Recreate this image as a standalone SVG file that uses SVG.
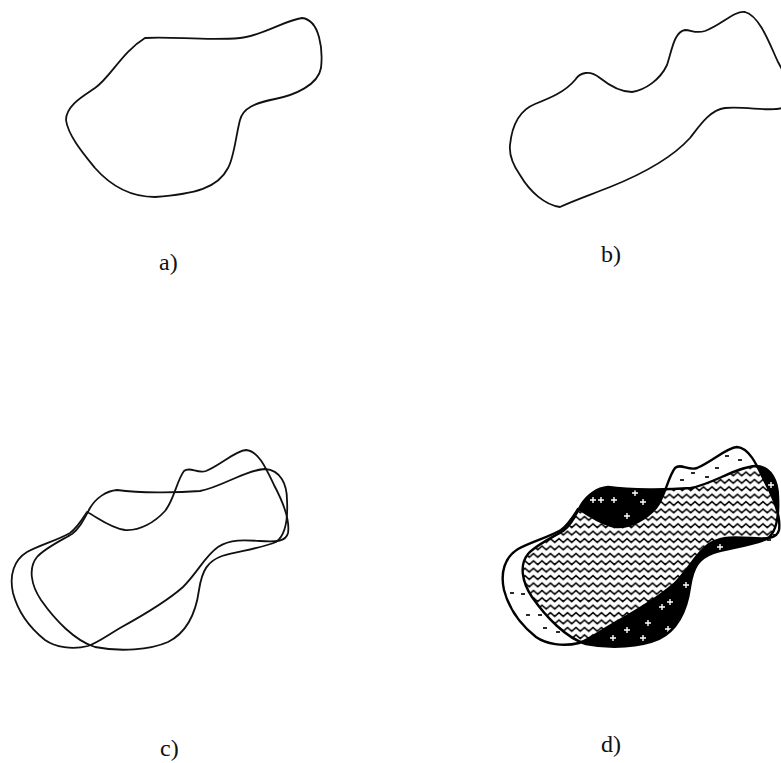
<svg xmlns="http://www.w3.org/2000/svg" xmlns:xlink="http://www.w3.org/1999/xlink" width="781" height="763" viewBox="0 0 781 763">
<style>
.outline{fill:none;stroke:#111;stroke-width:1.8;stroke-linejoin:round}
.outline-d{fill:none;stroke:#000;stroke-width:2.4;stroke-linejoin:round}
.label{font-family:"Liberation Serif","Times New Roman",serif;font-size:24px;fill:#111}
.plus{stroke:#fff;stroke-width:1.4;fill:none}
.dash{stroke:#111;stroke-width:1.8;fill:none}
</style>
<defs>
<path id="shA" d="M117,490 C140,493 175,493 200,491 C222,487 245,470 265,469 C281,470 287,485 287,500 C288,518 286,535 276,542 C262,548 240,551 222,556 C208,561 202,570 199,590 C196,612 188,632 168,642 C150,650 120,652 95,647 C75,641 55,620 41,600 C31,585 28,568 37,557 C45,548 62,540 72,534 C80,528 84,519 90,508 C96,498 106,491 117,490 Z"/>
<path id="shB" d="M87,512 C97,517 110,528 125,530 C140,531 155,522 165,511 C174,500 177,480 184,471 C190,466 197,474 206,471 C222,464 235,451 246,450 C258,451 265,466 274,485 C282,500 290,520 288,533 C286,542 275,542 260,541 C245,540 230,539 218,547 C205,556 198,572 183,587 C165,603 140,617 120,628 C105,637 97,643 88,646 C72,650 55,647 45,640 C30,628 18,612 13,593 C9,575 14,560 27,552 C40,545 58,540 70,533 C78,527 83,518 87,512 Z"/>
<clipPath id="clipA"><use xlink:href="#shA"/></clipPath>
<pattern id="zz" patternUnits="userSpaceOnUse" width="8.5" height="7.4">
<rect width="8.5" height="7.4" fill="#fff"/>
<path d="M-1,2.2 L0,1.4 L4.25,5.2 L8.5,1.4 L9.5,2.2" fill="none" stroke="#000" stroke-width="1.6"/>
</pattern>
<path id="plus" class="plus" d="M-3,0 H3 M0,-3 V3"/>
<path id="dash" class="dash" d="M-2,0 H2"/>
</defs>

<g id="panel-a">
<path class="outline" d="M145,38 C170,36 205,41 240,38 C262,36 285,20 302,18 C320,20 323,50 321,68 C318,85 295,95 275,99 C255,103 243,108 240,120 C236,135 234,158 228,168 C218,188 195,194 155,197 C130,197 110,185 95,168 C82,152 68,135 66,120 C66,105 85,95 95,88 C110,78 122,52 145,38 Z"/>
<text class="label" x="159" y="270">a)</text>
</g>

<g id="panel-b">
<path class="outline" d="M510,145 C512,125 520,110 535,104 C550,98 565,92 575,80 C580,72 590,70 600,78 C610,86 620,92 632,92 C645,90 660,80 667,65 C672,50 674,32 685,30 C692,30 695,34 705,31 C720,26 735,10 745,12 C760,16 770,45 778,62 C788,80 800,105 782,108 C770,112 745,106 725,108 C710,110 700,125 690,138 C670,160 640,175 610,187 C590,195 575,200 560,207 C545,205 530,192 520,175 C513,165 509,155 510,145 Z"/>
<text class="label" x="601" y="262">b)</text>
</g>

<g id="panel-c">
<use xlink:href="#shA" class="outline"/>
<use xlink:href="#shB" class="outline"/>
<text class="label" x="160" y="756">c)</text>
</g>

<g id="panel-d">
<g transform="translate(491,-3)">
<use xlink:href="#shA" fill="#000"/>
<use xlink:href="#shB" fill="#fff"/>
<g clip-path="url(#clipA)"><use xlink:href="#shB" fill="url(#zz)"/></g>
<g>
<use xlink:href="#plus" x="102" y="503"/><use xlink:href="#plus" x="110" y="503"/><use xlink:href="#plus" x="123" y="503"/>
<use xlink:href="#plus" x="144" y="496"/><use xlink:href="#plus" x="152" y="505"/><use xlink:href="#plus" x="136" y="519"/>
<use xlink:href="#plus" x="171" y="610"/><use xlink:href="#plus" x="179" y="605"/><use xlink:href="#plus" x="157" y="626"/>
<use xlink:href="#plus" x="136" y="633"/><use xlink:href="#plus" x="122" y="641"/><use xlink:href="#plus" x="152" y="641"/>
<use xlink:href="#plus" x="177" y="632"/><use xlink:href="#plus" x="195" y="588"/><use xlink:href="#plus" x="280" y="488"/>
<use xlink:href="#plus" x="229" y="550"/>
</g>
<g>
<use xlink:href="#dash" x="191" y="483"/><use xlink:href="#dash" x="202" y="476"/><use xlink:href="#dash" x="226" y="471"/>
<use xlink:href="#dash" x="236" y="459"/><use xlink:href="#dash" x="249" y="463"/><use xlink:href="#dash" x="216" y="480"/>
<use xlink:href="#dash" x="21" y="596"/><use xlink:href="#dash" x="32" y="597"/><use xlink:href="#dash" x="37" y="618"/>
<use xlink:href="#dash" x="49" y="618"/><use xlink:href="#dash" x="54" y="631"/><use xlink:href="#dash" x="67" y="635"/>
<use xlink:href="#dash" x="278" y="543"/><use xlink:href="#dash" x="284" y="538"/>
</g>
<use xlink:href="#shA" class="outline-d"/>
<use xlink:href="#shB" class="outline-d"/>
</g>
<text class="label" x="601" y="752">d)</text>
</g>
</svg>
